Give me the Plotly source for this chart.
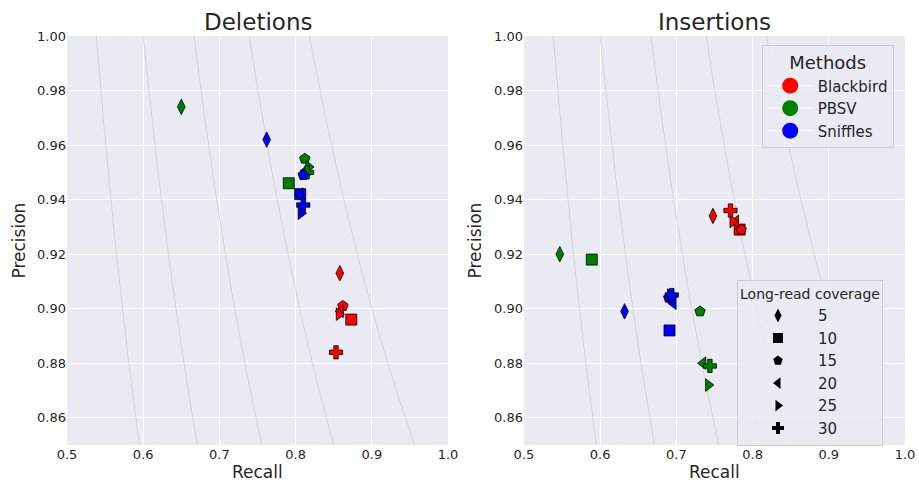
import numpy as np
import plotly.graph_objects as go

coverages = [5, 10, 15, 20, 25, 30]
symbols = ["diamond-tall", "square", "pentagon", "triangle-left", "triangle-right", "cross"]
methods = ["Blackbird", "PBSV", "Sniffles"]
colors = {"Blackbird": "red", "PBSV": "green", "Sniffles": "blue"}

# Deletions
del_recall = {
    "Blackbird": [0.858, 0.873, 0.862, 0.859, 0.857, 0.853],
    "PBSV":      [0.650, 0.791, 0.812, 0.815, 0.817, 0.815],
    "Sniffles":  [0.762, 0.806, 0.810, 0.806, 0.807, 0.810],
}
del_precision = {
    "Blackbird": [0.913, 0.896, 0.901, 0.899, 0.898, 0.884],
    "PBSV":      [0.974, 0.946, 0.955, 0.951, 0.952, 0.950],
    "Sniffles":  [0.962, 0.942, 0.949, 0.942, 0.935, 0.938],
}
# Insertions
ins_recall = {
    "Blackbird": [0.748, 0.783, 0.785, 0.778, 0.774, 0.771],
    "PBSV":      [0.547, 0.589, 0.731, 0.735, 0.742, 0.744],
    "Sniffles":  [0.632, 0.691, 0.690, 0.696, 0.692, 0.694],
}
ins_precision = {
    "Blackbird": [0.934, 0.929, 0.929, 0.932, 0.932, 0.936],
    "PBSV":      [0.920, 0.918, 0.899, 0.880, 0.872, 0.879],
    "Sniffles":  [0.899, 0.892, 0.904, 0.902, 0.905, 0.905],
}

f_scores = [0.7, 0.75, 0.8, 0.85, 0.9]

fig = go.Figure()

# iso-F curves
p = np.linspace(0.85, 1.0, 60)
for xa, ya in [("x", "y"), ("x2", "y2")]:
    for f in f_scores:
        r = f * p / (2 * p - f)
        fig.add_trace(go.Scatter(x=r, y=p, mode="lines", xaxis=xa, yaxis=ya,
                                 line=dict(color="rgba(190,190,190,0.55)", width=1),
                                 showlegend=False, hoverinfo="skip"))

for (xa, ya, rec, prec) in [("x", "y", del_recall, del_precision),
                             ("x2", "y2", ins_recall, ins_precision)]:
    for m in methods:
        fig.add_trace(go.Scatter(
            x=rec[m], y=prec[m], mode="markers", xaxis=xa, yaxis=ya,
            marker=dict(symbol=symbols, size=11, color=colors[m],
                        line=dict(color="black", width=0.8)),
            showlegend=False))

# Methods legend
for m in methods:
    fig.add_trace(go.Scatter(x=[None], y=[None], mode="lines+markers", name=m,
                             xaxis="x2", yaxis="y2",
                             marker=dict(symbol="circle", size=17, color=colors[m]),
                             line=dict(color="white", width=1),
                             legend="legend"))
# Coverage legend
for c, s in zip(coverages, symbols):
    fig.add_trace(go.Scatter(x=[None], y=[None], mode="markers", name=str(c),
                             xaxis="x2", yaxis="y2",
                             marker=dict(symbol=s, size=10, color="black"),
                             legend="legend2"))

axis_common = dict(showgrid=True, gridcolor="white", gridwidth=1, zeroline=False,
                   showline=False, ticks="", automargin=False,
                   tickfont=dict(size=13, color="#262626"))
xt = [0.5, 0.6, 0.7, 0.8, 0.9, 1.0]
xl = ["0.5", "0.6", "0.7", "0.8", "0.9", "1.0"]
yt = [0.86, 0.88, 0.90, 0.92, 0.94, 0.96, 0.98, 1.00]
yl = ["0.86", "0.88", "0.90", "0.92", "0.94", "0.96", "0.98", "1.00"]

dom_left = [0, 0.4547]
dom_right = [0.5453, 1]


def label(text, x, y, xshift=0, yshift=0, angle=0, size=17):
    return dict(text=text, x=x, y=y, xref="paper", yref="paper",
                xanchor="center", yanchor="middle", showarrow=False,
                xshift=xshift, yshift=yshift, textangle=angle,
                font=dict(size=size, color="#262626"))


fig.update_layout(
    width=919, height=483,
    margin=dict(l=67, r=14, t=36, b=38),
    paper_bgcolor="white", plot_bgcolor="#EAEAF2",
    font=dict(family="DejaVu Sans", color="#262626"),
    xaxis=dict(domain=dom_left, range=[0.5, 1.0], tickvals=xt, ticktext=xl,
               anchor="y", **axis_common),
    yaxis=dict(domain=[0, 1], range=[0.85, 1.0], tickvals=yt, ticktext=yl,
               anchor="x", **axis_common),
    xaxis2=dict(domain=dom_right, range=[0.5, 1.0], tickvals=xt, ticktext=xl,
                anchor="y2", **axis_common),
    yaxis2=dict(domain=[0, 1], range=[0.85, 1.0], tickvals=yt, ticktext=yl,
                anchor="x2", **axis_common),
    legend=dict(title=dict(text="Methods", font=dict(size=18), side="top center"),
                x=0.829, y=0.978, xanchor="left", yanchor="top",
                bgcolor="rgba(234,234,242,0.85)", bordercolor="#CCCCCC", borderwidth=1,
                font=dict(size=15), itemsizing="trace", itemwidth=45, tracegroupgap=0),
    legend2=dict(title=dict(text="Long-read coverage", font=dict(size=14), side="top center"),
                 x=0.7995, y=0.403, xanchor="left", yanchor="top",
                 bgcolor="rgba(234,234,242,0.85)", bordercolor="#CCCCCC", borderwidth=1,
                 font=dict(size=15), itemsizing="trace", itemwidth=70, tracegroupgap=0),
    annotations=[
        label("Deletions", sum(dom_left) / 2, 1.0, yshift=14, size=23),
        label("Insertions", sum(dom_right) / 2, 1.0, yshift=14, size=23),
        label("Recall", sum(dom_left) / 2, 0.0, yshift=-27),
        label("Recall", sum(dom_right) / 2, 0.0, yshift=-27),
        label("Precision", dom_left[0], 0.5, xshift=-49, angle=-90),
        label("Precision", dom_right[0], 0.5, xshift=-49, angle=-90),
    ],
)

fig.write_html("out.html", config={"displayModeBar": False},
               post_script="document.body.style.margin='0';document.body.style.overflow='hidden';")
